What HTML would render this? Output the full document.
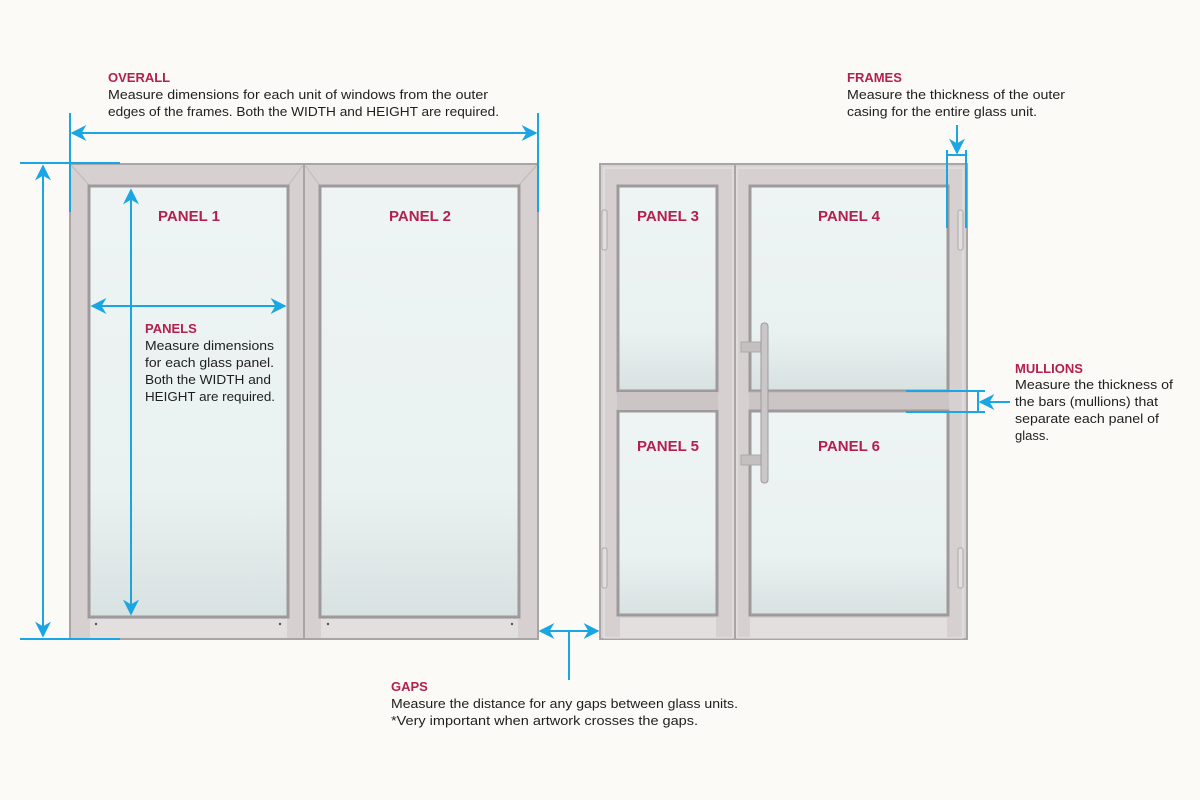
<!DOCTYPE html>
<html><head><meta charset="utf-8"><style>
html,body{margin:0;padding:0;background:#fbfaf7;}
svg{display:block}
text{font-family:"Liberation Sans",sans-serif;}
.h{fill:#b3204d;font-weight:bold;font-size:13px}
.b{fill:#1e1e1e;font-size:13px}
.p{fill:#b3204d;font-weight:bold;font-size:15px}
.ln{stroke:#19a6e3;stroke-width:2;fill:none}
</style></head><body>
<svg width="1200" height="800" viewBox="0 0 1200 800" xmlns="http://www.w3.org/2000/svg">
<defs>
<linearGradient id="gl" x1="0" y1="0" x2="0" y2="1">
<stop offset="0" stop-color="#eef4f4"/><stop offset="0.7" stop-color="#eaf1f1"/><stop offset="1" stop-color="#d8e2e1"/></linearGradient>
<marker id="a" viewBox="0 0 10 10" refX="9" refY="5" markerWidth="7" markerHeight="7" orient="auto-start-reverse" markerUnits="userSpaceOnUse">
<path d="M0,0 L10,5 L0,10 L3,5 z" fill="#19a6e3"/></marker>
<marker id="b" viewBox="0 0 10 10" refX="9" refY="5" markerWidth="16" markerHeight="16" orient="auto-start-reverse" markerUnits="userSpaceOnUse">
<path d="M0,0 L10,5 L0,10 L3,5 z" fill="#19a6e3"/></marker>
</defs>
<rect width="1200" height="800" fill="#fbfaf7"/>

<!-- LEFT UNIT -->
<rect x="70" y="164" width="468" height="475" fill="#d6d0d1" stroke="#a9a5a6" stroke-width="2"/>
<line x1="304" y1="165" x2="304" y2="639" stroke="#a9a5a6" stroke-width="2"/>
<line x1="71" y1="165" x2="90" y2="186" stroke="#bdb8b9"/>
<line x1="303" y1="165" x2="288" y2="186" stroke="#bdb8b9"/>
<line x1="305" y1="165" x2="320" y2="186" stroke="#bdb8b9"/>
<line x1="537" y1="165" x2="518" y2="186" stroke="#bdb8b9"/>
<rect x="89" y="186" width="199" height="431" fill="url(#gl)" stroke="#9e9a9b" stroke-width="3"/>
<rect x="320" y="186" width="199" height="431" fill="url(#gl)" stroke="#9e9a9b" stroke-width="3"/>
<rect x="90" y="619" width="197" height="19" fill="#e3dfdf"/>
<rect x="321" y="619" width="197" height="19" fill="#e3dfdf"/>
<circle cx="96" cy="624" r="1.2" fill="#555"/><circle cx="280" cy="624" r="1.2" fill="#555"/>
<circle cx="328" cy="624" r="1.2" fill="#555"/><circle cx="512" cy="624" r="1.2" fill="#555"/>
<text class="p" x="189" y="221" text-anchor="middle">PANEL 1</text>
<text class="p" x="420" y="221" text-anchor="middle">PANEL 2</text>

<!-- RIGHT UNIT -->
<rect x="600" y="164" width="367" height="475" fill="#d8d2d3" stroke="#a9a5a6" stroke-width="2"/>
<rect x="604" y="168" width="129" height="470" fill="#d6d0d1" stroke="#eae6e6" stroke-width="1"/>
<rect x="737" y="168" width="226" height="470" fill="#d6d0d1" stroke="#eae6e6" stroke-width="1"/>
<line x1="735" y1="165" x2="735" y2="639" stroke="#a9a5a6" stroke-width="2"/>
<rect x="618" y="186" width="99" height="205" fill="url(#gl)" stroke="#9e9a9b" stroke-width="3"/>
<rect x="618" y="411" width="99" height="204" fill="url(#gl)" stroke="#9e9a9b" stroke-width="3"/>
<rect x="750" y="186" width="198" height="205" fill="url(#gl)" stroke="#9e9a9b" stroke-width="3"/>
<rect x="750" y="411" width="198" height="204" fill="url(#gl)" stroke="#9e9a9b" stroke-width="3"/>
<rect x="617" y="392" width="101" height="18" fill="#cbc5c6"/>
<rect x="749" y="392" width="200" height="18" fill="#cbc5c6"/>
<line x1="749" y1="392" x2="949" y2="392" stroke="#b8b2b3"/>
<line x1="749" y1="410" x2="949" y2="410" stroke="#9e9a9b"/>
<rect x="620" y="618" width="96" height="20" fill="#e3dfdf"/>
<rect x="750" y="618" width="197" height="20" fill="#e3dfdf"/>
<!-- hinges -->
<rect x="602" y="210" width="5" height="40" rx="2" fill="#e2dede" stroke="#aaa"/>
<rect x="602" y="548" width="5" height="40" rx="2" fill="#e2dede" stroke="#aaa"/>
<rect x="958" y="210" width="5" height="40" rx="2" fill="#e2dede" stroke="#aaa"/>
<rect x="958" y="548" width="5" height="40" rx="2" fill="#e2dede" stroke="#aaa"/>
<!-- handle -->
<rect x="741" y="342" width="22" height="10" fill="#c4bfc0" stroke="#aaa"/>
<rect x="741" y="455" width="22" height="10" fill="#c4bfc0" stroke="#aaa"/>
<rect x="761" y="323" width="7" height="160" rx="3" fill="#cbc6c7" stroke="#9f9b9c"/>
<text class="p" x="668" y="221" text-anchor="middle">PANEL 3</text>
<text class="p" x="849" y="221" text-anchor="middle">PANEL 4</text>
<text class="p" x="668" y="451" text-anchor="middle">PANEL 5</text>
<text class="p" x="849" y="451" text-anchor="middle">PANEL 6</text>

<!-- OVERALL dims -->
<line class="ln" x1="70" y1="113" x2="70" y2="212"/>
<line class="ln" x1="538" y1="113" x2="538" y2="212"/>
<line class="ln" x1="72" y1="133" x2="536" y2="133" marker-start="url(#b)" marker-end="url(#b)"/>
<line class="ln" x1="20" y1="163" x2="120" y2="163"/>
<line class="ln" x1="20" y1="639" x2="120" y2="639"/>
<line class="ln" x1="43" y1="166" x2="43" y2="636" marker-start="url(#b)" marker-end="url(#b)"/>
<!-- PANELS dims -->
<line class="ln" x1="131" y1="190" x2="131" y2="614" marker-start="url(#b)" marker-end="url(#b)"/>
<line class="ln" x1="92" y1="306" x2="285" y2="306" marker-start="url(#b)" marker-end="url(#b)"/>
<!-- FRAMES -->
<line class="ln" x1="947" y1="150" x2="947" y2="228"/>
<line class="ln" x1="966" y1="150" x2="966" y2="228"/>
<line class="ln" x1="947" y1="155" x2="966" y2="155"/>
<line class="ln" x1="957" y1="125" x2="957" y2="153" marker-end="url(#b)"/>
<!-- MULLIONS -->
<line class="ln" x1="906" y1="391" x2="985" y2="391"/>
<line class="ln" x1="906" y1="412" x2="985" y2="412"/>
<line class="ln" x1="978" y1="391" x2="978" y2="412"/>
<line class="ln" x1="1010" y1="402" x2="980" y2="402" marker-end="url(#b)"/>
<!-- GAPS -->
<line class="ln" x1="540" y1="631" x2="598" y2="631" marker-start="url(#b)" marker-end="url(#b)"/>
<line class="ln" x1="569" y1="631" x2="569" y2="680"/>

<!-- TEXT -->
<text class="h" x="108" y="82">OVERALL</text>
<text class="b" x="108" y="99" textLength="380" lengthAdjust="spacingAndGlyphs">Measure dimensions for each unit of windows from the outer</text>
<text class="b" x="108" y="116" textLength="391" lengthAdjust="spacingAndGlyphs">edges of the frames. Both the WIDTH and HEIGHT are required.</text>

<text class="h" x="847" y="82">FRAMES</text>
<text class="b" x="847" y="99" textLength="218" lengthAdjust="spacingAndGlyphs">Measure the thickness of the outer</text>
<text class="b" x="847" y="116" textLength="190" lengthAdjust="spacingAndGlyphs">casing for the entire glass unit.</text>

<text class="h" x="145" y="333">PANELS</text>
<text class="b" x="145" y="350" textLength="129" lengthAdjust="spacingAndGlyphs">Measure dimensions</text>
<text class="b" x="145" y="367" textLength="129" lengthAdjust="spacingAndGlyphs">for each glass panel.</text>
<text class="b" x="145" y="384" textLength="126" lengthAdjust="spacingAndGlyphs">Both the WIDTH and</text>
<text class="b" x="145" y="401" textLength="130" lengthAdjust="spacingAndGlyphs">HEIGHT are required.</text>

<text class="h" x="1015" y="373">MULLIONS</text>
<text class="b" x="1015" y="389" textLength="158" lengthAdjust="spacingAndGlyphs">Measure the thickness of</text>
<text class="b" x="1015" y="406" textLength="143" lengthAdjust="spacingAndGlyphs">the bars (mullions) that</text>
<text class="b" x="1015" y="423" textLength="144" lengthAdjust="spacingAndGlyphs">separate each panel of</text>
<text class="b" x="1015" y="440">glass.</text>

<text class="h" x="391" y="691">GAPS</text>
<text class="b" x="391" y="708" textLength="347" lengthAdjust="spacingAndGlyphs">Measure the distance for any gaps between glass units.</text>
<text class="b" x="391" y="725" textLength="307" lengthAdjust="spacingAndGlyphs">*Very important when artwork crosses the gaps.</text>
</svg>
</body></html>
